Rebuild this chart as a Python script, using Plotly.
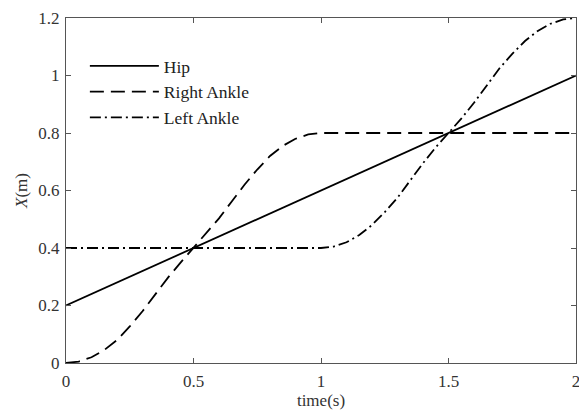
import plotly.graph_objects as go

# Time samples (s)
t_hip = [0.0, 2.0]
x_hip = [0.2, 1.0]

t_right = [0.0, 0.05, 0.1, 0.15, 0.2, 0.25, 0.3, 0.35, 0.4, 0.45, 0.5,
           0.55, 0.6, 0.65, 0.7, 0.75, 0.8, 0.85, 0.9, 0.95, 1.0, 2.0]
x_right = [0.0, 0.005, 0.02, 0.045, 0.08, 0.127, 0.18, 0.238, 0.297, 0.35, 0.4,
           0.45, 0.503, 0.562, 0.62, 0.673, 0.72, 0.755, 0.78, 0.795, 0.8, 0.8]

t_left = [0.0, 1.0, 1.05, 1.1, 1.15, 1.2, 1.25, 1.3, 1.35, 1.4, 1.45, 1.5,
          1.55, 1.6, 1.65, 1.7, 1.75, 1.8, 1.85, 1.9, 1.95, 2.0]
x_left = [0.4, 0.4, 0.405, 0.42, 0.445, 0.48, 0.525, 0.575, 0.635, 0.695, 0.75, 0.8,
          0.85, 0.905, 0.965, 1.025, 1.075, 1.12, 1.155, 1.18, 1.195, 1.2]

x_ticks = [0, 0.5, 1, 1.5, 2]
x_tick_labels = ["0", "0.5", "1", "1.5", "2"]
y_ticks = [0, 0.2, 0.4, 0.6, 0.8, 1.0, 1.2]
y_tick_labels = ["0", "0.2", "0.4", "0.6", "0.8", "1", "1.2"]

FONT = "Liberation Serif, Times New Roman, serif"

fig = go.Figure()
fig.add_trace(go.Scatter(x=t_hip, y=x_hip, mode="lines", name="Hip",
                         line=dict(color="black", width=1.8)))
fig.add_trace(go.Scatter(x=t_right, y=x_right, mode="lines", name="Right Ankle",
                         line=dict(color="black", width=1.8, dash="14px,7px")))
fig.add_trace(go.Scatter(x=t_left, y=x_left, mode="lines", name="Left Ankle",
                         line=dict(color="black", width=1.8, dash="11px,4px,2px,4px")))

axis_common = dict(showgrid=False, zeroline=False, showline=True, linecolor="#555",
                   linewidth=1, mirror="ticks", ticks="inside", ticklen=5,
                   tickcolor="#555", ticklabeloverflow="allow",
                   tickfont=dict(family=FONT, size=17, color="#333"))

fig.update_layout(
    width=579, height=410,
    margin=dict(l=66, r=3, t=18, b=47),
    paper_bgcolor="white", plot_bgcolor="white",
    font=dict(family=FONT, color="#222"),
    xaxis=dict(range=[0, 2], tickvals=x_ticks, ticktext=x_tick_labels, automargin="height",
               ticklabelstandoff=3,
               title=dict(text="time(s)", font=dict(family=FONT, size=17, color="#333"), standoff=0),
               **axis_common),
    yaxis=dict(range=[0, 1.2], tickvals=y_ticks, ticktext=y_tick_labels, automargin="width",
               ticklabelstandoff=2,
               title=dict(text="<i>X</i>(m)", font=dict(family=FONT, size=17, color="#333"), standoff=6),
               **axis_common),
    legend=dict(x=0.037, y=0.913, xanchor="left", yanchor="top",
                bgcolor="rgba(0,0,0,0)", borderwidth=0,
                font=dict(family=FONT, size=17.5, color="#222"),
                itemwidth=69, tracegroupgap=0),
    showlegend=True,
)

fig.write_html(
    "out.html",
    config={"displayModeBar": False},
    post_script="document.body.style.margin='0';document.body.style.overflow='hidden';",
)
